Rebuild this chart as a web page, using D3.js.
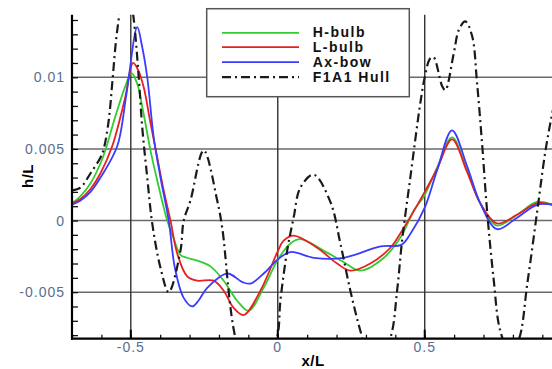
<!DOCTYPE html>
<html>
<head>
<meta charset="utf-8">
<script src="https://cdn.jsdelivr.net/npm/d3@7"></script>
<style>
  body { margin: 0; background: #fff; }
  text { font-family: "Liberation Sans", Arial, sans-serif; }
</style>
</head>
<body>
<svg id="chart" width="552" height="369"></svg>
<script>
// wave profiles h/L against x/L
var hBulb = [
  [-0.70, 0.0012], [-0.671, 0.0017], [-0.637, 0.0026], [-0.603, 0.0040], [-0.585, 0.0050],
  [-0.558, 0.0069], [-0.52, 0.0093], [-0.498, 0.0103], [-0.479, 0.0096], [-0.456, 0.0074],
  [-0.433, 0.0049], [-0.410, 0.0028], [-0.376, 0.0], [-0.355, -0.0012], [-0.331, -0.0024],
  [-0.31, -0.0026], [-0.274, -0.0028], [-0.229, -0.0032], [-0.184, -0.0042], [-0.138, -0.0056],
  [-0.099, -0.0063], [-0.048, -0.0047], [0.001, -0.0027], [0.043, -0.0016], [0.077, -0.0013],
  [0.156, -0.0021], [0.224, -0.0029], [0.281, -0.0035], [0.361, -0.0026], [0.42, -0.0011],
  [0.463, 0.0007], [0.499, 0.00175], [0.542, 0.0037], [0.593, 0.0058], [0.644, 0.0035],
  [0.689, 0.0012], [0.746, -0.00035], [0.814, 0.0004], [0.882, 0.0013], [0.935, 0.0011], [0.95, 0.0010]
];
var lBulb = [
  [-0.70, 0.0012], [-0.671, 0.0015], [-0.637, 0.0022], [-0.603, 0.0033],
  [-0.563, 0.0052], [-0.52, 0.0085], [-0.492, 0.0110], [-0.475, 0.0105], [-0.456, 0.0093],
  [-0.433, 0.0068], [-0.410, 0.0044], [-0.388, 0.0021], [-0.365, 0.0], [-0.342, -0.0023],
  [-0.308, -0.0039], [-0.274, -0.0042], [-0.218, -0.0042], [-0.184, -0.0049], [-0.150, -0.0061],
  [-0.116, -0.0066], [-0.059, -0.0049], [0.001, -0.0021], [0.020, -0.0014], [0.054, -0.00105],
  [0.134, -0.0019], [0.202, -0.0030], [0.247, -0.0035], [0.315, -0.0030], [0.383, -0.0019],
  [0.42, -0.0008], [0.5, 0.0020], [0.542, 0.0036], [0.593, 0.00566], [0.644, 0.0034],
  [0.689, 0.0012], [0.746, -0.0002], [0.814, 0.0004], [0.882, 0.0012], [0.935, 0.0011], [0.95, 0.0010]
];
var axBow = [
  [-0.70, 0.0011], [-0.671, 0.0014], [-0.637, 0.0020], [-0.603, 0.0030],
  [-0.546, 0.0052], [-0.515, 0.0088], [-0.478, 0.0135], [-0.462, 0.0122], [-0.444, 0.0100],
  [-0.422, 0.0058], [-0.399, 0.0030], [-0.371, 0.0], [-0.350, -0.0033], [-0.320, -0.0054],
  [-0.291, -0.0060], [-0.27, -0.0056], [-0.240, -0.0047], [-0.172, -0.0037], [-0.12, -0.0043],
  [-0.092, -0.0044], [-0.048, -0.0037], [0.001, -0.0027], [0.043, -0.0022], [0.122, -0.0026],
  [0.224, -0.0026], [0.35, -0.0018], [0.42, -0.0017], [0.452, -0.0009], [0.5, 0.0009],
  [0.542, 0.0035], [0.593, 0.0063], [0.644, 0.0038], [0.689, 0.0012], [0.746, -0.0006],
  [0.814, 0.0002], [0.882, 0.0011], [0.935, 0.0011], [0.95, 0.0010]
];
var f1a1Hull = [
  [-0.70, 0.0021], [-0.671, 0.0023], [-0.637, 0.0033], [-0.603, 0.0044], [-0.592, 0.0050],
  [-0.575, 0.0070], [-0.563, 0.0096], [-0.546, 0.0133], [-0.515, 0.0170], [-0.492, 0.0144],
  [-0.473, 0.0100], [-0.461, 0.0065], [-0.444, 0.0030], [-0.427, -0.0002], [-0.399, -0.0033],
  [-0.371, -0.0050], [-0.331, -0.0021], [-0.320, 0.0], [-0.297, 0.0014], [-0.252, 0.0049],
  [-0.206, 0.0014], [-0.189, -0.0005], [-0.144, -0.0082], [-0.073, -0.0125], [-0.002, -0.0082],
  [0.009, -0.0056], [0.032, -0.0021], [0.054, 0.0002], [0.077, 0.0023], [0.122, 0.0032],
  [0.179, 0.0013], [0.213, -0.0016], [0.247, -0.0049], [0.281, -0.0077], [0.325, -0.0105],
  [0.383, -0.0082], [0.406, -0.0049], [0.423, -0.0014], [0.451, 0.0030], [0.485, 0.0082],
  [0.50, 0.0100], [0.518, 0.0113], [0.53, 0.0114], [0.559, 0.0094], [0.57, 0.0091],
  [0.599, 0.0117], [0.616, 0.0133], [0.638, 0.0139], [0.661, 0.0129], [0.678, 0.0096],
  [0.695, 0.0054], [0.712, 0.0007], [0.734, -0.0040], [0.757, -0.0077], [0.79, -0.0092],
  [0.82, -0.0083], [0.849, -0.0044], [0.883, 0.0007], [0.911, 0.0049], [0.935, 0.0076], [0.95, 0.0090]
];

var seriesNames = ["H-bulb", "L-bulb", "Ax-bow", "F1A1 Hull"];
var yLabels = [0.01, 0.005, 0, -0.005];
var xLabels = [-0.5, 0, 0.5];

var svg = d3.select("#chart");
var plotLeft = 72, plotRight = 557, plotTop = 14.7, plotBottom = 338.7;

var x = d3.scaleLinear().domain([-0.7, 0.95]).range([plotLeft, plotRight]);
var y = d3.scaleLinear().domain([-0.00825, 0.01437]).range([plotBottom, plotTop]);

svg.append("clipPath").attr("id", "plot")
  .append("rect")
    .attr("x", plotLeft).attr("y", plotTop)
    .attr("width", plotRight - plotLeft).attr("height", plotBottom - plotTop);

// grid lines
svg.append("g").selectAll("line").data(yLabels).join("line")
  .attr("x1", plotLeft).attr("x2", plotRight)
  .attr("y1", d => y(d)).attr("y2", d => y(d))
  .attr("stroke", "#6a6a6a").attr("stroke-width", 1.5);
svg.append("g").selectAll("line").data(xLabels).join("line")
  .attr("x1", d => x(d)).attr("x2", d => x(d))
  .attr("y1", plotTop).attr("y2", plotBottom)
  .attr("stroke", "#333").attr("stroke-width", 1.4);

// curves
var line = d3.line()
  .x(function (d) { return x(d[0]); })
  .y(function (d) { return y(d[1]); })
  .curve(d3.curveCatmullRom.alpha(0.5));

var series = [
  { data: hBulb, color: "#33cc33", dash: null },
  { data: lBulb, color: "#e62020", dash: null },
  { data: axBow, color: "#3b3bff", dash: null },
  { data: f1a1Hull, color: "#1a1a1a", dash: "9,4,2,4" }
];

var g = svg.append("g").attr("clip-path", "url(#plot)");
series.forEach(function (s) {
  g.append("path")
    .attr("d", line(s.data))
    .attr("fill", "none")
    .attr("stroke", s.color)
    .attr("stroke-width", s.dash ? 2.2 : 1.8)
    .attr("stroke-dasharray", s.dash);
});

// axes
var yAxis = d3.axisRight(y)
  .tickValues(d3.range(-8, 15).map(function (i) { return i / 1000; }))
  .tickSize(6).tickFormat("");
svg.append("g").attr("transform", "translate(" + plotLeft + ",0)").call(yAxis)
  .call(function (a) { a.select(".domain").remove(); })
  .selectAll("line").attr("stroke", "#111").attr("stroke-width", 1.3);

var xAxis = d3.axisTop(x)
  .tickValues(d3.range(-7, 10).map(function (i) { return i / 10; }))
  .tickSize(4).tickFormat("");
svg.append("g").attr("transform", "translate(0," + plotBottom + ")").call(xAxis)
  .call(function (a) { a.select(".domain").remove(); })
  .selectAll("line").attr("stroke", "#111").attr("stroke-width", 1.3);
svg.append("g").selectAll("line").data(xLabels).join("line")
  .attr("x1", d => x(d)).attr("x2", d => x(d))
  .attr("y1", plotBottom - 9).attr("y2", plotBottom)
  .attr("stroke", "#000").attr("stroke-width", 2);

svg.append("line").attr("x1", plotLeft).attr("x2", plotLeft).attr("y1", plotTop).attr("y2", plotBottom + 1)
  .attr("stroke", "#000").attr("stroke-width", 2.2);
svg.append("line").attr("x1", plotLeft - 1).attr("x2", plotRight).attr("y1", plotBottom).attr("y2", plotBottom)
  .attr("stroke", "#000").attr("stroke-width", 2.2);

// tick labels
svg.append("g").selectAll("text").data(yLabels).join("text")
  .attr("x", 65).attr("y", d => y(d) + 5)
  .attr("text-anchor", "end")
  .attr("font-size", 14).attr("letter-spacing", 1)
  .attr("fill", "#5a6e8e")
  .text(d => String(d));
svg.append("g").selectAll("text").data(xLabels).join("text")
  .attr("x", d => x(d)).attr("y", 352)
  .attr("text-anchor", "middle")
  .attr("font-size", 14).attr("letter-spacing", 1)
  .attr("fill", "#5a6e8e")
  .text(d => String(d));

// axis titles
svg.append("text").attr("x", 313).attr("y", 366)
  .attr("text-anchor", "middle").attr("font-size", 15).attr("font-weight", "bold")
  .attr("letter-spacing", 0.5).text("x/L");
svg.append("text").attr("transform", "translate(33,176) rotate(-90)")
  .attr("text-anchor", "middle").attr("font-size", 15).attr("font-weight", "bold")
  .attr("letter-spacing", 0.5).text("h/L");

// legend
var lg = svg.append("g");
lg.append("rect").attr("x", 206.7).attr("y", 8.7).attr("width", 202.6).attr("height", 88)
  .attr("fill", "#fff").attr("stroke", "#555").attr("stroke-width", 1.5);
var rows = lg.selectAll("g.row").data(series).join("g")
  .attr("transform", function (d, i) { return "translate(0," + [37.3, 51.7, 66.7, 81.7][i] + ")"; });
rows.append("line")
  .attr("x1", 222).attr("x2", 299).attr("y1", -4.5).attr("y2", -4.5)
  .attr("stroke", d => d.color).attr("stroke-width", d => d.dash ? 2.2 : 1.8)
  .attr("stroke-dasharray", d => d.dash);
rows.append("text")
  .attr("x", 312.7).attr("y", 0)
  .attr("font-size", 14).attr("font-weight", "bold").attr("letter-spacing", 1.5)
  .attr("fill", "#111")
  .text(function (d, i) { return seriesNames[i]; });
</script>
</body>
</html>
